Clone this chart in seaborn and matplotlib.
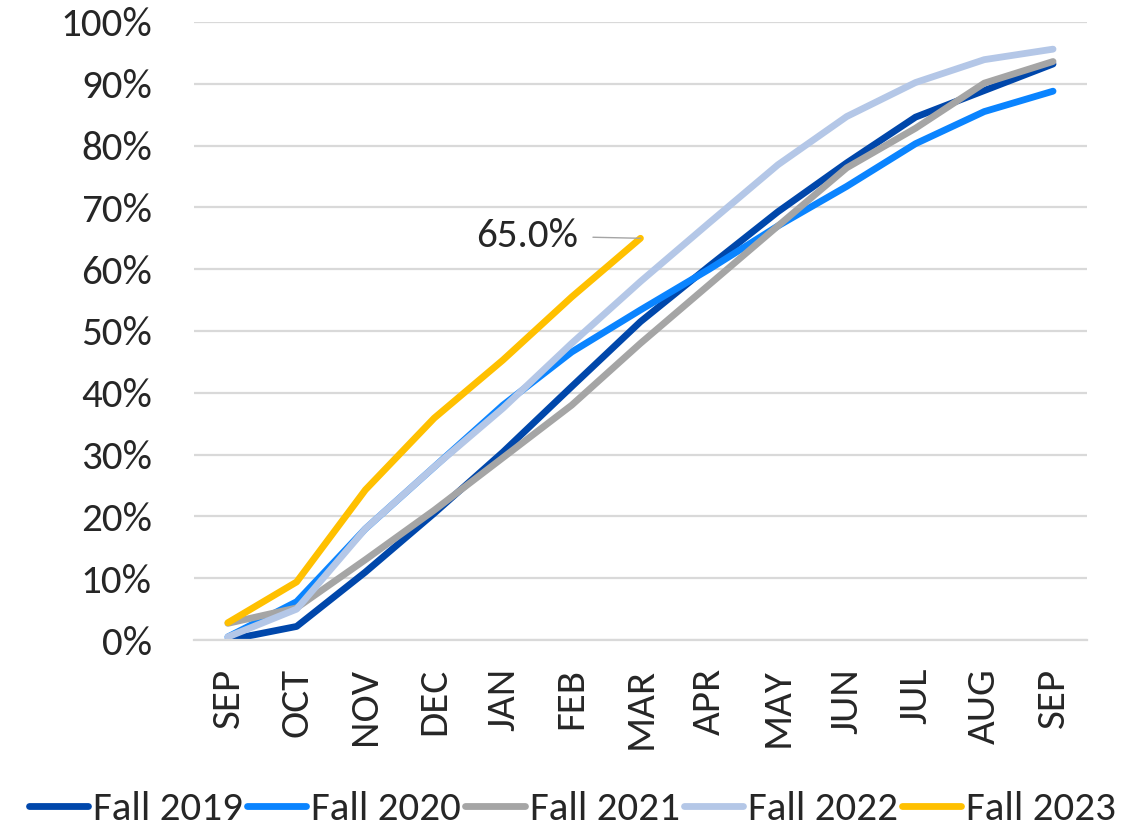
import numpy as np
import pandas as pd
import seaborn as sns
import matplotlib.pyplot as plt

months = ['SEP', 'OCT', 'NOV', 'DEC', 'JAN', 'FEB', 'MAR',
          'APR', 'MAY', 'JUN', 'JUL', 'AUG', 'SEP']

fall_2019 = [0.0, 2.2, 11.0, 20.5, 30.4, 41.0, 51.5, 60.5, 69.3, 77.2, 84.6, 88.9, 93.2]
fall_2020 = [0.5, 6.2, 18.0, 28.0, 38.0, 46.6, 53.4, 60.0, 67.0, 73.4, 80.3, 85.5, 88.8]
fall_2021 = [2.7, 5.2, 13.0, 21.0, 29.5, 38.0, 48.0, 57.5, 67.0, 76.4, 82.8, 90.1, 93.6]
fall_2022 = [0.5, 5.0, 18.0, 28.0, 37.5, 48.0, 58.0, 67.5, 76.9, 84.7, 90.2, 93.9, 95.6]
fall_2023 = [2.8, 9.4, 24.3, 35.9, 45.3, 55.5, 65.0]

series = {'Fall 2019': fall_2019, 'Fall 2020': fall_2020, 'Fall 2021': fall_2021,
          'Fall 2022': fall_2022, 'Fall 2023': fall_2023}
colors = {'Fall 2019': '#0047AB', 'Fall 2020': '#0A84FF', 'Fall 2021': '#A5A5A5',
          'Fall 2022': '#B4C7E7', 'Fall 2023': '#FFC000'}

rows = []
for name, vals in series.items():
    for i, v in enumerate(vals):
        rows.append({'pos': i, 'pct': v, 'Term': name})
df = pd.DataFrame(rows)

sns.set_style('white')
plt.rcParams['font.family'] = ['Carlito', 'Liberation Sans Narrow', 'DejaVu Sans']
fs = 29.5
lw = 4.9

fig = plt.figure(figsize=(11.45, 8.35), dpi=100)
ax = fig.add_axes([0.169, 0.2335, 0.7807, 0.7402])

sns.lineplot(data=df, x='pos', y='pct', hue='Term', palette=colors,
             linewidth=lw, ax=ax, legend=False, solid_capstyle='round')

ax.set_xlim(-0.5, len(months) - 0.5)
ax.set_ylim(0, 100)
ax.set_yticks(range(0, 101, 10))
ax.set_yticklabels([f'{t}%' for t in range(0, 101, 10)])
ax.set_xticks(range(len(months)))
ax.set_xticklabels(months, rotation=90)
ax.tick_params(axis='y', labelsize=fs, pad=30, length=0)
ax.tick_params(axis='x', labelsize=fs, pad=20, length=0)
ax.grid(axis='y', color='#D9D9D9', linewidth=1.6)
ax.set_axisbelow(True)
for s in ['top', 'right', 'left']:
    ax.spines[s].set_visible(False)
ax.spines['bottom'].set_color('#D9D9D9')
ax.spines['bottom'].set_linewidth(1.6)
ax.set_xlabel('')
ax.set_ylabel('')

last = len(fall_2023) - 1
ax.annotate(f'{fall_2023[last]:.1f}%', xy=(last, fall_2023[last]),
            xytext=(5.1, 65.4), ha='right', va='center', fontsize=fs,
            arrowprops=dict(arrowstyle='-', color='#A5A5A5', lw=1,
                            shrinkA=8, shrinkB=0))

handles = [plt.Line2D([0], [0], color=colors[k], lw=lw, solid_capstyle='round')
           for k in series]
fig.legend(handles, list(series.keys()), loc='lower center', ncol=5,
           bbox_to_anchor=(0.5, -0.035), frameon=False, fontsize=fs,
           handlelength=1.45, handletextpad=0.12, columnspacing=0.1)

fig.savefig('out.png', dpi=100)
